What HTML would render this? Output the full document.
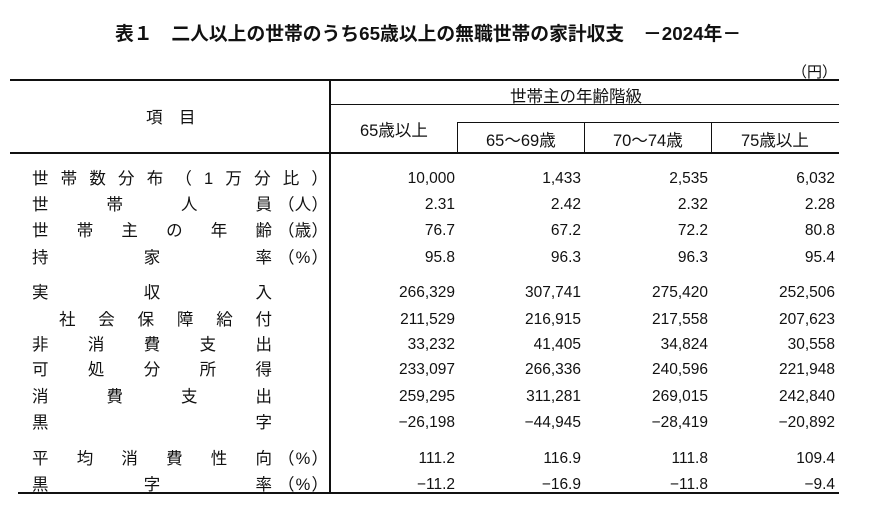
<!DOCTYPE html>
<html><head><meta charset="utf-8"><style>
body{margin:0;background:#fff;width:870px;height:510px;position:relative;overflow:hidden;font-family:"Liberation Sans","Noto Sans CJK JP",sans-serif;color:#111}
.a{position:absolute;white-space:nowrap}
.ln{position:absolute;background:#111}
.lab{position:absolute;left:32px;width:296px;height:22px;display:flex;font-size:16.5px;line-height:22px}
.m{display:flex;justify-content:space-between;flex:0 0 auto}
.s{display:flex;justify-content:space-between;width:50px;margin-left:auto}
.n{position:absolute;font-size:15.5px;line-height:22px;text-align:right;width:120px}
.h{font-size:16.5px}
</style></head><body>
<div class="a" style="left:115px;top:19px;font-size:18.8px;font-weight:bold">表１　二人以上の世帯のうち65歳以上の無職世帯の家計収支　－2024年－</div>
<div class="a" style="left:792px;top:61px;font-size:15px">（円）</div>
<div class="ln" style="left:10px;top:79px;width:829px;height:2px"></div>
<div class="ln" style="left:329px;top:79px;width:2px;height:414px"></div>
<div class="ln" style="left:330px;top:104px;width:509px;height:1px"></div>
<div class="ln" style="left:457px;top:122px;width:382px;height:1px"></div>
<div class="ln" style="left:457px;top:122px;width:1px;height:31px"></div>
<div class="ln" style="left:584px;top:122px;width:1px;height:31px"></div>
<div class="ln" style="left:711px;top:122px;width:1px;height:31px"></div>
<div class="ln" style="left:10px;top:152px;width:829px;height:2px"></div>
<div class="ln" style="left:18px;top:492px;width:821px;height:2px"></div>
<div class="a h" style="left:146px;top:104px">項　目</div>
<div class="a h" style="left:510px;top:83px">世帯主の年齢階級</div>
<div class="a h" style="left:360px;top:117px">65歳以上</div>
<div class="a h" style="left:486px;top:127px">65～69歳</div>
<div class="a h" style="left:613px;top:127px">70～74歳</div>
<div class="a h" style="left:741px;top:127px">75歳以上</div>

<div class="lab" style="top:168px"><div class="m" style="width:296px"><span>世</span><span>帯</span><span>数</span><span>分</span><span>布</span><span>（</span><span>1</span><span>万</span><span>分</span><span>比</span><span>）</span></div></div>
<div class="lab" style="top:194px"><div class="m" style="width:240px"><span>世</span><span>帯</span><span>人</span><span>員</span></div><div class="s"><span>（</span><span>人</span><span>）</span></div></div>
<div class="lab" style="top:220px"><div class="m" style="width:240px"><span>世</span><span>帯</span><span>主</span><span>の</span><span>年</span><span>齢</span></div><div class="s"><span>（</span><span>歳</span><span>）</span></div></div>
<div class="lab" style="top:247px"><div class="m" style="width:240px"><span>持</span><span>家</span><span>率</span></div><div class="s"><span>（</span><span>%</span><span>）</span></div></div>
<div class="lab" style="top:282px"><div class="m" style="width:240px"><span>実</span><span>収</span><span>入</span></div></div>
<div class="lab" style="top:309px"><div class="m" style="width:213px;margin-left:27px"><span>社</span><span>会</span><span>保</span><span>障</span><span>給</span><span>付</span></div></div>
<div class="lab" style="top:334px"><div class="m" style="width:240px"><span>非</span><span>消</span><span>費</span><span>支</span><span>出</span></div></div>
<div class="lab" style="top:359px"><div class="m" style="width:240px"><span>可</span><span>処</span><span>分</span><span>所</span><span>得</span></div></div>
<div class="lab" style="top:386px"><div class="m" style="width:240px"><span>消</span><span>費</span><span>支</span><span>出</span></div></div>
<div class="lab" style="top:412px"><div class="m" style="width:240px"><span>黒</span><span>字</span></div></div>
<div class="lab" style="top:448px"><div class="m" style="width:240px"><span>平</span><span>均</span><span>消</span><span>費</span><span>性</span><span>向</span></div><div class="s"><span>（</span><span>%</span><span>）</span></div></div>
<div class="lab" style="top:474px"><div class="m" style="width:240px"><span>黒</span><span>字</span><span>率</span></div><div class="s"><span>（</span><span>%</span><span>）</span></div></div>

<div id="nums"></div>
<script>
var rows=[[168,"10,000","1,433","2,535","6,032"],[194,"2.31","2.42","2.32","2.28"],[220,"76.7","67.2","72.2","80.8"],[247,"95.8","96.3","96.3","95.4"],
[282,"266,329","307,741","275,420","252,506"],[309,"211,529","216,915","217,558","207,623"],[334,"33,232","41,405","34,824","30,558"],[359,"233,097","266,336","240,596","221,948"],[386,"259,295","311,281","269,015","242,840"],[412,"−26,198","−44,945","−28,419","−20,892"],
[448,"111.2","116.9","111.8","109.4"],[474,"−11.2","−16.9","−11.8","−9.4"]];
var rx=[455,581,708,835],h="";
rows.forEach(function(r){for(var i=0;i<4;i++){h+='<div class="n" style="top:'+r[0]+'px;left:'+(rx[i]-120)+'px">'+r[i+1]+'</div>';}});
document.getElementById("nums").innerHTML=h;
</script>
</body></html>
